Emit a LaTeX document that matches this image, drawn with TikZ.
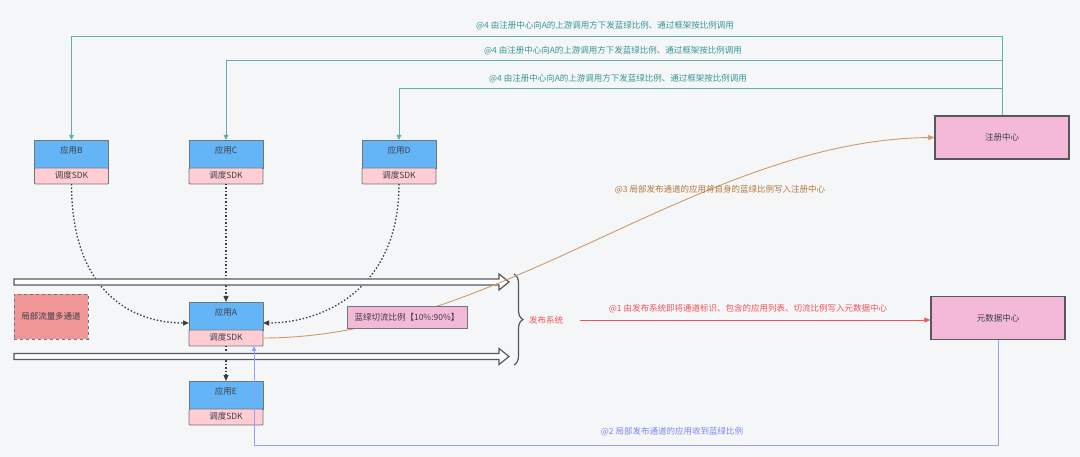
\documentclass[tikz,border=0pt]{standalone}
\usepackage{fontspec}
\setmainfont{Noto Sans CJK SC}
\usepackage{tikz}
\usetikzlibrary{positioning,arrows.meta,decorations.pathreplacing}
\definecolor{canvasgray}{RGB}{245,246,248}
\definecolor{appblue}{RGB}{100,181,246}
\definecolor{sdkpink}{RGB}{255,205,210}
\definecolor{hubpink}{RGB}{244,185,217}
\definecolor{notered}{RGB}{240,150,150}
\definecolor{boxedge}{RGB}{110,118,128}
\definecolor{hubedge}{RGB}{85,88,96}
\definecolor{inkgray}{RGB}{60,62,70}
\definecolor{syncteal}{RGB}{95,175,175}
\definecolor{syncink}{RGB}{55,150,150}
\definecolor{repbrown}{RGB}{205,155,105}
\definecolor{repink}{RGB}{180,120,60}
\definecolor{pubred}{RGB}{240,85,85}
\definecolor{feedblue}{RGB}{150,160,250}
\definecolor{feedink}{RGB}{125,135,240}

\begin{document}
\begin{tikzpicture}[
    x=1pt, y=-1pt,
    font=\fontsize{8.5}{10}\selectfont,
    app/.style={rectangle, draw=boxedge, fill=appblue, text=inkgray, line width=0.8pt, minimum width=74pt, minimum height=28pt, text height=7pt, text depth=7pt, inner sep=0pt, outer sep=0pt},
    sdk/.style={app, fill=sdkpink, minimum height=16pt, text height=6pt, text depth=1pt, rounded corners=1pt},
    hub/.style={rectangle, draw=hubedge, fill=hubpink, text=inkgray, line width=1.5pt, minimum width=134pt, minimum height=43pt},
    tag/.style={rectangle, draw=boxedge, fill=hubpink, text=inkgray, line width=0.8pt, minimum width=120pt, minimum height=22pt},
    note/.style={rectangle, draw=boxedge, fill=notered, text=inkgray, dashed, line width=0.8pt, minimum width=74pt, minimum height=45pt},
    pipe/.style={draw=hubedge, fill=white, line width=1.2pt, line join=miter},
    call/.style={-{Triangle[length=6pt, width=5pt]}, inkgray, line width=1.3pt, dash pattern=on 1.5pt off 2pt},
    sync/.style={-{Triangle[length=5pt, width=4.5pt]}, syncteal, line width=0.9pt},
    rep/.style={-{Triangle[length=6pt, width=5pt]}, repbrown, line width=0.9pt},
    pub/.style={-{Triangle[length=6pt, width=5pt]}, pubred, line width=0.9pt},
    feed/.style={-{Triangle[length=5pt, width=4.5pt]}, feedblue, line width=0.9pt},
    lbl/.style={inner sep=1pt}
]
    \fill[canvasgray] (0,0) rectangle (1080,457);
    \useasboundingbox (0,0) rectangle (1080,457);

    % applications with their SDK
    \node[app] (appB) at (71.5,154) {应用B};
    \node[sdk, below=0pt of appB] (sdkB) {调度SDK};
    \node[app] (appC) at (226,154) {应用C};
    \node[sdk, below=0pt of appC] (sdkC) {调度SDK};
    \node[app] (appD) at (399,154) {应用D};
    \node[sdk, below=0pt of appD] (sdkD) {调度SDK};
    \node[app] (appA) at (226,316) {应用A};
    \node[sdk, below=0pt of appA] (sdkA) {调度SDK};
    \node[app] (appE) at (226,395) {应用E};
    \node[sdk, below=0pt of appE] (sdkE) {调度SDK};

    \node[hub] (reg) at (1002,137.5) {注册中心};
    \node[hub] (meta) at (998,318) {元数据中心};
    \node[note] (multi) at (51,316.5) {局部流量多通道};

    % calls into A
    \draw[call] (sdkB.south) .. controls +(0,106) and +(-59,0) .. ([yshift=-7pt]appA.west);
    \draw[call] (sdkD.south) .. controls +(0,106) and +(59,0) .. ([yshift=-7pt]appA.east);
    \draw[call] (sdkC.south) -- (appA.north);
    \draw[call] (sdkA.south) -- (appE.north);

    % release lanes
    \foreach \y in {282,356.5}
        \draw[pipe] (14,\y-3) -- (499,\y-3) -- (499,\y-8) -- (509,\y) -- (499,\y+8) -- (499,\y+3) -- (14,\y+3) -- cycle;
    \draw[hubedge, line width=1.2pt, decorate, decoration={brace, amplitude=9pt}] (514,274) -- (514,365);
    \node[text=pubred] (pubsys) at (546,320) {发布系统};

    \draw[rep] (sdkA.east) .. controls (500,338) and (700,140) .. (reg.west);
    \node[tag] (ratio) at (407,317) {蓝绿切流比例【10\%:90\%】};

    \draw[sync] (reg.north) |- (appB.north |- 0,36) -- (appB.north);
    \draw[sync] (reg.north |- 0,60) -| (appC.north);
    \draw[sync] (reg.north |- 0,88) -| (appD.north);
    \node[lbl, text=syncink] at (605,26) {@4 由注册中心向A的上游调用方下发蓝绿比例、通过框架按比例调用};
    \node[lbl, text=syncink] at (613,51) {@4 由注册中心向A的上游调用方下发蓝绿比例、通过框架按比例调用};
    \node[lbl, text=syncink] at (618,79) {@4 由注册中心向A的上游调用方下发蓝绿比例、通过框架按比例调用};

    \node[lbl, text=repink] at (720,190) {@3 局部发布通道的应用将自身的蓝绿比例写入注册中心};

    \draw[pub, shorten <=13pt] (pubsys.east) -- (meta.west |- pubsys.east);
    \node[lbl, text=pubred] at (748,309) {@1 由发布系统即将通道标识、包含的应用列表、切流比例写入元数据中心};

    \coordinate (aIn) at ([xshift=28pt]sdkA.south);
    \draw[feed] (meta.south) -- ++(0,105) -| (aIn);
    \node[lbl, text=feedink] at (672,432) {@2 局部发布通道的应用收到蓝绿比例};
\end{tikzpicture}
\end{document}
